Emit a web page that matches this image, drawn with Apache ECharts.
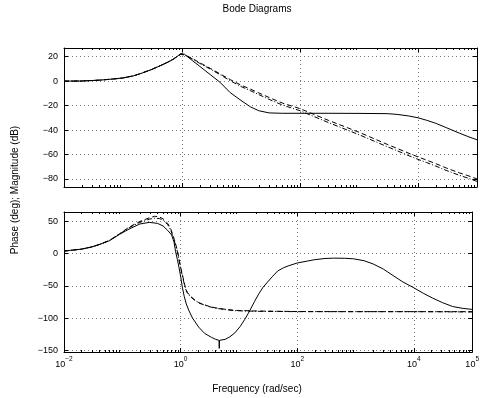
<!DOCTYPE html>
<html>
<head>
<meta charset="utf-8">
<script src="https://cdn.jsdelivr.net/npm/echarts@6/dist/echarts.min.js"></script>
<style>html,body{margin:0;padding:0;background:#fff;}#c{width:482px;height:398px;}</style>
</head>
<body>
<div id="c"></div>
<script>
// ---- data ----
const magFreq = [0.01, 0.02, 0.04, 0.07, 0.1, 0.15, 0.2, 0.3, 0.43, 0.56, 0.71, 0.85, 0.95, 1, 1.1, 1.5, 2, 3, 4.4, 6.6, 10, 14.4, 20, 30, 50, 100, 300, 1000, 3000, 4400, 7000, 10000, 14000, 20000, 30000, 50000, 70000, 100000];
const magSolid = [0, 0.1, 0.8, 1.8, 2.6, 4.3, 6.2, 9.3, 12.6, 15.2, 17.8, 20.6, 22.6, 23.5, 22, 16.8, 12.1, 5.4, -0.9, -9.5, -15.8, -21, -24.2, -26, -26.3, -26.3, -26.3, -26.4, -26.6, -27.2, -28.5, -30, -32, -34.5, -38, -42.5, -45.3, -48];
const magDash = [0, 0.1, 0.8, 1.8, 2.6, 4.3, 6.3, 9.4, 12.7, 15.3, 18, 20.4, 21.9, 22.5, 21.6, 18.5, 15, 10.5, 6, 1.2, -3.3, -6.5, -9.6, -13.4, -17.9, -22.5, -32, -41.8, -51.7, -55, -59, -62, -64.6, -67.5, -71, -75, -77.3, -80];
const magDashDot = [0, 0.1, 0.8, 1.8, 2.6, 4.3, 6.3, 9.4, 12.7, 15.3, 18, 20.4, 21.9, 22.4, 21.4, 18.1, 14.5, 9.9, 5.3, 0.3, -4.4, -7.8, -11, -14.9, -19.5, -24.2, -33.8, -43.8, -53.6, -56.9, -61, -64, -66.6, -69.5, -73, -77, -79.3, -82];

const phSolidFreq = [0.01, 0.02, 0.03, 0.04, 0.06, 0.09, 0.13, 0.2, 0.29, 0.4, 0.5, 0.6, 0.7, 0.77, 0.82, 0.88, 0.94, 1, 1.07, 1.15, 1.25, 1.38, 1.6, 2.04, 2.6, 3.4, 4, 4.55, 4.6, 4.65, 5.8, 7, 8.5, 10.5, 12.6, 14.4, 18.6, 22, 26, 31, 38, 46, 58, 70, 100, 150, 195, 300, 420, 650, 920, 1400, 2000, 3000, 4400, 6500, 10000, 14500, 21000, 31000, 46000, 70000, 100000];
const phSolid = [4, 7, 10.4, 14, 20, 30, 38, 46, 48.5, 47, 43, 36, 29, 18, 3, -9, -22, -35, -52, -66, -78, -88, -100, -114, -124, -130, -133, -134.5, -147, -134.5, -133, -129, -123, -113, -102, -93, -74, -62, -52, -44, -35, -27, -22, -19, -14.5, -11.5, -9.5, -7.5, -7, -7.2, -8, -11, -16, -24, -34, -44, -53, -61.5, -69, -76, -82, -85, -86.5];

const phDashFreq = [0.01, 0.02, 0.03, 0.04, 0.06, 0.09, 0.13, 0.2, 0.29, 0.36, 0.43, 0.5, 0.6, 0.68, 0.78, 0.88, 0.94, 1, 1.1, 1.2, 1.3, 1.48, 1.7, 2.04, 3, 3.9, 6, 8.5, 20, 100, 1000, 10000, 100000];
const phDash = [4, 7, 10.5, 14, 20.5, 31, 41, 50, 55.5, 58, 57, 54, 47, 38, 22, 5, -8, -21, -37, -52, -60, -66, -71, -76, -81.5, -84, -86.5, -88, -89, -89.8, -90, -90, -90];
const phDashDot = [4, 7, 10.5, 14, 20.5, 30.5, 40, 48.5, 53.5, 55, 54.5, 52, 45, 36, 20, 3, -10, -22, -39, -53, -61, -67, -71.5, -76.5, -82, -84.5, -87, -88.5, -89.5, -90, -90, -90, -90.5];

const xDecadeMin = -2, xDecadeMax = 5;           // 10^-2 .. 10^5 rad/sec
const magRange = [-86.6, 27.1];
const phRange = [-152.6, 64.6];
const titleText = 'Bode Diagrams';
const xName = 'Frequency (rad/sec)';
const yName = 'Phase (deg); Magnitude (dB)';

// ---- chart ----
const FONT = 'Liberation Sans, Arial, Helvetica, sans-serif';
const minorTicks = [];
for (let n = xDecadeMin; n < xDecadeMax; n++) {
  for (let k = 2; k <= 9; k++) minorTicks.push(n + Math.log10(k));
}
const toPts = (fr, vals) => fr.map((f, i) => [Math.log10(f), vals[i]]);
const minus = s => String(s).replace('-', '\u2212');

const gridLine = { show: true, lineStyle: { color: '#777', type: [1, 3], width: 1 } };
const axLine = { show: true, onZero: false, lineStyle: { color: '#000', width: 1 } };

function xAxisFor(grid, pos, labels, main) {
  return {
    type: 'value', gridIndex: grid, position: pos,
    min: xDecadeMin, max: xDecadeMax, interval: 2,
    axisLine: axLine,
    axisTick: { show: true, inside: true, length: 4, lineStyle: { color: '#000' } },
    splitLine: main ? gridLine : { show: false },
    axisLabel: labels ? {
      show: true, margin: 4, showMinLabel: true, showMaxLabel: true,
      formatter: v => '{b|10}{s|' + minus(Math.round(v)) + '}',
      rich: {
        b: { fontSize: 9, fontFamily: FONT, color: '#000', verticalAlign: 'bottom', lineHeight: 13 },
        s: { fontSize: 6.5, fontFamily: FONT, color: '#000', verticalAlign: 'top', lineHeight: 13 }
      }
    } : { show: false }
  };
}
function xMinorFor(grid, pos) {
  return {
    type: 'value', gridIndex: grid, position: pos,
    min: xDecadeMin, max: xDecadeMax,
    axisLine: { show: false, onZero: false },
    axisTick: { show: true, inside: true, length: 2, customValues: minorTicks, lineStyle: { color: '#000' } },
    splitLine: { show: false }, axisLabel: { show: false }
  };
}
function yAxisFor(grid, pos, range, split, labels) {
  return {
    type: 'value', gridIndex: grid, position: pos,
    min: range[0], max: range[1], splitNumber: split,
    axisLine: axLine,
    axisTick: { show: true, inside: true, length: 4, lineStyle: { color: '#000' } },
    splitLine: labels ? gridLine : { show: false },
    axisLabel: labels ? {
      show: true, margin: 6, showMinLabel: false, showMaxLabel: false,
      fontSize: 9, fontFamily: FONT, color: '#000',
      formatter: v => minus(v)
    } : { show: false }
  };
}
function line(xi, yi, data, type) {
  return {
    type: 'line', xAxisIndex: xi, yAxisIndex: yi, data: data,
    showSymbol: false, symbol: 'none', smooth: false, animation: false, silent: true,
    lineStyle: { color: '#000', width: 1, type: type }
  };
}

const chart = echarts.init(document.getElementById('c'), null, { renderer: 'canvas' });
chart.setOption({
  animation: false,
  backgroundColor: '#fff',
  grid: [
    { left: 64, top: 48, width: 413, height: 139, containLabel: false },
    { left: 64, top: 212, width: 413, height: 140, containLabel: false }
  ],
  xAxis: [
    xAxisFor(0, 'bottom', false, true),
    xAxisFor(0, 'top', false, false),
    xAxisFor(1, 'bottom', true, true),
    xAxisFor(1, 'top', false, false),
    xMinorFor(0, 'bottom'), xMinorFor(0, 'top'),
    xMinorFor(1, 'bottom'), xMinorFor(1, 'top')
  ],
  yAxis: [
    yAxisFor(0, 'left', magRange, 5, true),
    yAxisFor(0, 'right', magRange, 5, false),
    yAxisFor(1, 'left', phRange, 4, true),
    yAxisFor(1, 'right', phRange, 4, false)
  ],
  series: [
    line(0, 0, toPts(magFreq, magDash), [5, 3]),
    line(0, 0, toPts(magFreq, magDashDot), [5, 2, 1, 2]),
    line(0, 0, toPts(magFreq, magSolid), 'solid'),
    line(2, 2, toPts(phDashFreq, phDash), [5, 3]),
    line(2, 2, toPts(phDashFreq, phDashDot), [5, 2, 1, 2]),
    line(2, 2, toPts(phSolidFreq, phSolid), 'solid')
  ],
  graphic: [
    { type: 'text', x: 257, y: 9, style: { text: titleText, font: '10px ' + FONT, fill: '#000', align: 'center', verticalAlign: 'middle' } },
    { type: 'text', x: 257, y: 389, style: { text: xName, font: '10px ' + FONT, fill: '#000', align: 'center', verticalAlign: 'middle' } },
    { type: 'text', x: 15, y: 190, rotation: Math.PI / 2, style: { text: yName, font: '10px ' + FONT, fill: '#000', align: 'center', verticalAlign: 'middle' } }
  ]
});
</script>
</body>
</html>
